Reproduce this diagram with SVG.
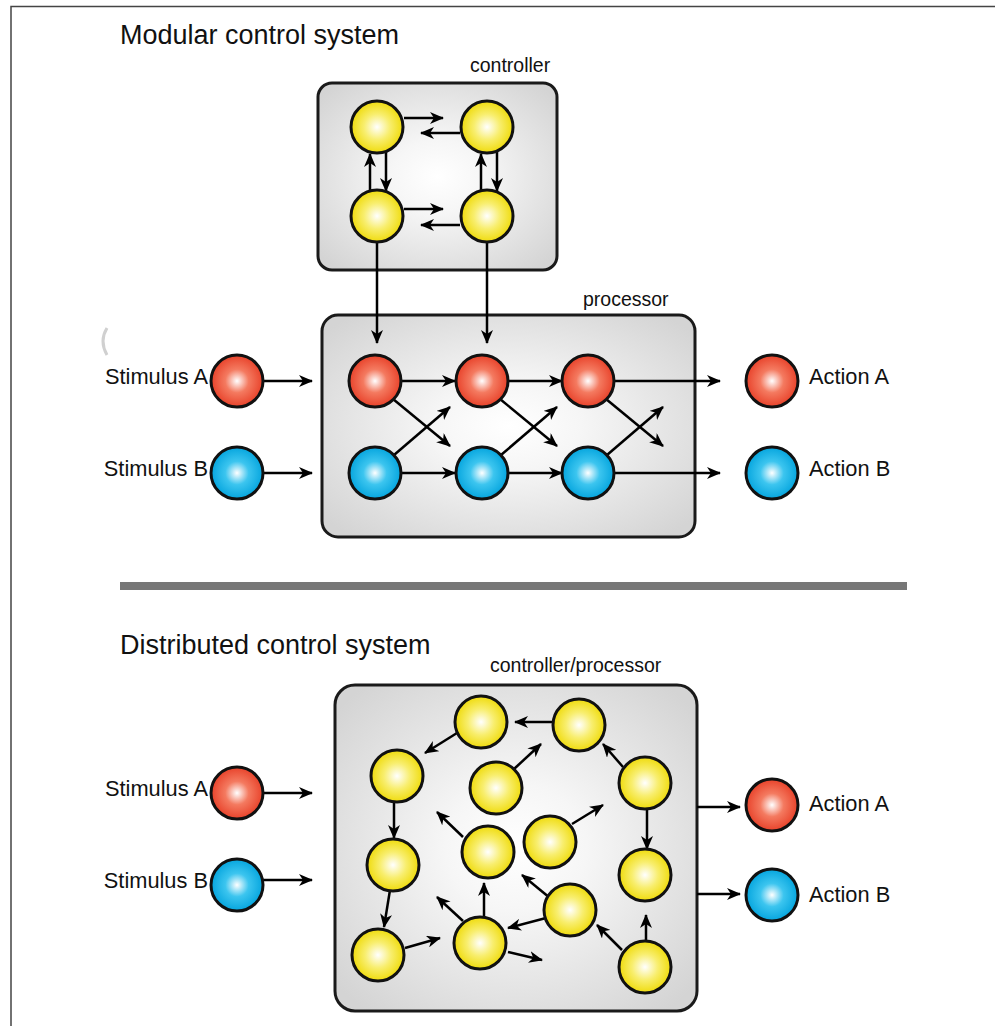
<svg xmlns="http://www.w3.org/2000/svg" width="995" height="1026" viewBox="0 0 995 1026">
<style>
text{font-family:"Liberation Sans",Arial,Helvetica,sans-serif;fill:#111}
.title{font-size:27px}
.lbl{font-size:19.5px}
.io{font-size:21.8px}
.box{stroke:#1a1a1a;stroke-width:3;fill:url(#gBox)}
.n{stroke:#111;stroke-width:3}
.r{fill:url(#gRed)}
.b{fill:url(#gBlue)}
.y{fill:url(#gYel)}
#edges line{stroke:#000;stroke-width:2.5;marker-end:url(#ah)}
</style>
<defs>
<radialGradient id="gBox" cx="50%" cy="50%" r="65%"><stop offset="0" stop-color="#ffffff"/><stop offset="0.3" stop-color="#f6f6f6"/><stop offset="1" stop-color="#d4d4d4"/></radialGradient>
<radialGradient id="gRed" cx="50%" cy="50%" r="50%"><stop offset="0" stop-color="#ffffff"/><stop offset="0.45" stop-color="#f47a60"/><stop offset="1" stop-color="#e8422a"/></radialGradient>
<radialGradient id="gBlue" cx="50%" cy="50%" r="50%"><stop offset="0" stop-color="#ffffff"/><stop offset="0.45" stop-color="#3cc5ef"/><stop offset="1" stop-color="#05a5de"/></radialGradient>
<radialGradient id="gYel" cx="50%" cy="50%" r="50%"><stop offset="0" stop-color="#ffffff"/><stop offset="0.5" stop-color="#f8ee6e"/><stop offset="1" stop-color="#efdb0c"/></radialGradient>
<marker id="ah" viewBox="0 0 14 12" refX="13" refY="6" markerWidth="14" markerHeight="12" markerUnits="userSpaceOnUse" orient="auto"><path d="M0,0 L14,6 L0,12 L4,6 Z" fill="#000"/></marker>
</defs>
<rect width="995" height="1026" fill="#ffffff"/>
<path d="M11,1026 V6.5 H995" fill="none" stroke="#444" stroke-width="1.5"/>
<path d="M107,328 Q99,341 107,355" fill="none" stroke="#d0d0d0" stroke-width="3"/>
<rect x="120" y="582" width="787" height="8" fill="#777"/>

<text class="title" x="120" y="44">Modular control system</text>
<text class="title" x="120" y="654">Distributed control system</text>

<g id="controller">
<rect class="box" x="318" y="83" width="239" height="187" rx="14"/>
<text class="lbl" x="470" y="72">controller</text>
</g>
<g id="processor">
<rect class="box" x="322" y="315" width="373" height="222" rx="16"/>
<text class="lbl" x="583" y="306">processor</text>
</g>
<g id="controller-processor">
<rect class="box" x="335" y="685" width="362" height="326" rx="20"/>
<text class="lbl" x="490" y="672">controller/processor</text>
</g>

<g id="edges">
<line x1="404" y1="118" x2="443" y2="118"/>
<line x1="460" y1="133" x2="421" y2="133"/>
<line x1="404" y1="209" x2="443" y2="209"/>
<line x1="460" y1="225" x2="421" y2="225"/>
<line x1="370" y1="191" x2="370" y2="154"/>
<line x1="386" y1="152" x2="386" y2="191"/>
<line x1="481" y1="191" x2="481" y2="154"/>
<line x1="497" y1="152" x2="497" y2="191"/>
<line x1="377" y1="242" x2="377" y2="343"/>
<line x1="487" y1="242" x2="487" y2="343"/>
<line x1="263" y1="381" x2="312" y2="381"/>
<line x1="263" y1="473" x2="312" y2="473"/>
<line x1="401" y1="381" x2="455" y2="381"/>
<line x1="508" y1="381" x2="562" y2="381"/>
<line x1="614" y1="381" x2="720" y2="381"/>
<line x1="401" y1="473" x2="455" y2="473"/>
<line x1="508" y1="473" x2="562" y2="473"/>
<line x1="614" y1="473" x2="720" y2="473"/>
<line x1="393" y1="399" x2="450" y2="446"/>
<line x1="394" y1="455" x2="450" y2="407"/>
<line x1="500" y1="399" x2="557" y2="446"/>
<line x1="501" y1="455" x2="557" y2="407"/>
<line x1="606" y1="399" x2="663" y2="446"/>
<line x1="607" y1="455" x2="663" y2="407"/>
<line x1="263" y1="793" x2="312" y2="793"/>
<line x1="263" y1="880" x2="312" y2="880"/>
<line x1="553" y1="722" x2="515" y2="722"/>
<line x1="457" y1="733" x2="425" y2="753"/>
<line x1="394" y1="802" x2="394" y2="838"/>
<line x1="390" y1="890" x2="384" y2="927"/>
<line x1="405" y1="948" x2="440" y2="938"/>
<line x1="514" y1="769" x2="541" y2="744"/>
<line x1="623" y1="767" x2="603" y2="744"/>
<line x1="647" y1="810" x2="647" y2="849"/>
<line x1="463" y1="837" x2="437" y2="812"/>
<line x1="572" y1="824" x2="603" y2="805"/>
<line x1="484" y1="918" x2="484" y2="883"/>
<line x1="463" y1="921" x2="437" y2="897"/>
<line x1="508" y1="952" x2="542" y2="960"/>
<line x1="546" y1="918" x2="508" y2="928"/>
<line x1="550" y1="898" x2="522" y2="875"/>
<line x1="622" y1="950" x2="597" y2="925"/>
<line x1="646" y1="940" x2="646" y2="915"/>
<line x1="697" y1="807" x2="740" y2="807"/>
<line x1="697" y1="894" x2="740" y2="894"/>
</g>

<g id="ctrl-nodes">
<circle id="c1" class="n y" cx="377" cy="127" r="26"/>
<circle id="c2" class="n y" cx="487" cy="127" r="26"/>
<circle id="c3" class="n y" cx="377" cy="216" r="26"/>
<circle id="c4" class="n y" cx="487" cy="216" r="26"/>
</g>
<g id="proc-nodes">
<circle id="p1" class="n r" cx="375" cy="381" r="26"/>
<circle id="p2" class="n r" cx="482" cy="381" r="26"/>
<circle id="p3" class="n r" cx="588" cy="381" r="26"/>
<circle id="p4" class="n b" cx="375" cy="473" r="26"/>
<circle id="p5" class="n b" cx="482" cy="473" r="26"/>
<circle id="p6" class="n b" cx="588" cy="473" r="26"/>
</g>
<g id="stimulusA-top"><circle class="n r" cx="237" cy="381" r="26"/><text class="io" x="208" y="384" text-anchor="end">Stimulus A</text></g>
<g id="stimulusB-top"><circle class="n b" cx="237" cy="473" r="26"/><text class="io" x="208" y="476" text-anchor="end">Stimulus B</text></g>
<g id="actionA-top"><circle class="n r" cx="772" cy="381" r="26"/><text class="io" x="809" y="384">Action A</text></g>
<g id="actionB-top"><circle class="n b" cx="772" cy="473" r="26"/><text class="io" x="809" y="476">Action B</text></g>

<g id="dist-nodes">
<circle id="d1" class="n y" cx="481" cy="722" r="26"/>
<circle id="d2" class="n y" cx="579" cy="725" r="26"/>
<circle id="d3" class="n y" cx="397" cy="776" r="26"/>
<circle id="d4" class="n y" cx="496" cy="788" r="26"/>
<circle id="d5" class="n y" cx="645" cy="783" r="26"/>
<circle id="d6" class="n y" cx="550" cy="842" r="26"/>
<circle id="d7" class="n y" cx="488" cy="852" r="26"/>
<circle id="d8" class="n y" cx="393" cy="865" r="26"/>
<circle id="d9" class="n y" cx="645" cy="875" r="26"/>
<circle id="d10" class="n y" cx="570" cy="910" r="26"/>
<circle id="d11" class="n y" cx="378" cy="955" r="26"/>
<circle id="d12" class="n y" cx="480" cy="943" r="26"/>
<circle id="d13" class="n y" cx="645" cy="967" r="26"/>
</g>
<g id="stimulusA-bottom"><circle class="n r" cx="237" cy="793" r="26"/><text class="io" x="208" y="796" text-anchor="end">Stimulus A</text></g>
<g id="stimulusB-bottom"><circle class="n b" cx="237" cy="885" r="26"/><text class="io" x="208" y="888" text-anchor="end">Stimulus B</text></g>
<g id="actionA-bottom"><circle class="n r" cx="772" cy="805" r="26"/><text class="io" x="809" y="811">Action A</text></g>
<g id="actionB-bottom"><circle class="n b" cx="772" cy="895" r="26"/><text class="io" x="809" y="902">Action B</text></g>
</svg>
